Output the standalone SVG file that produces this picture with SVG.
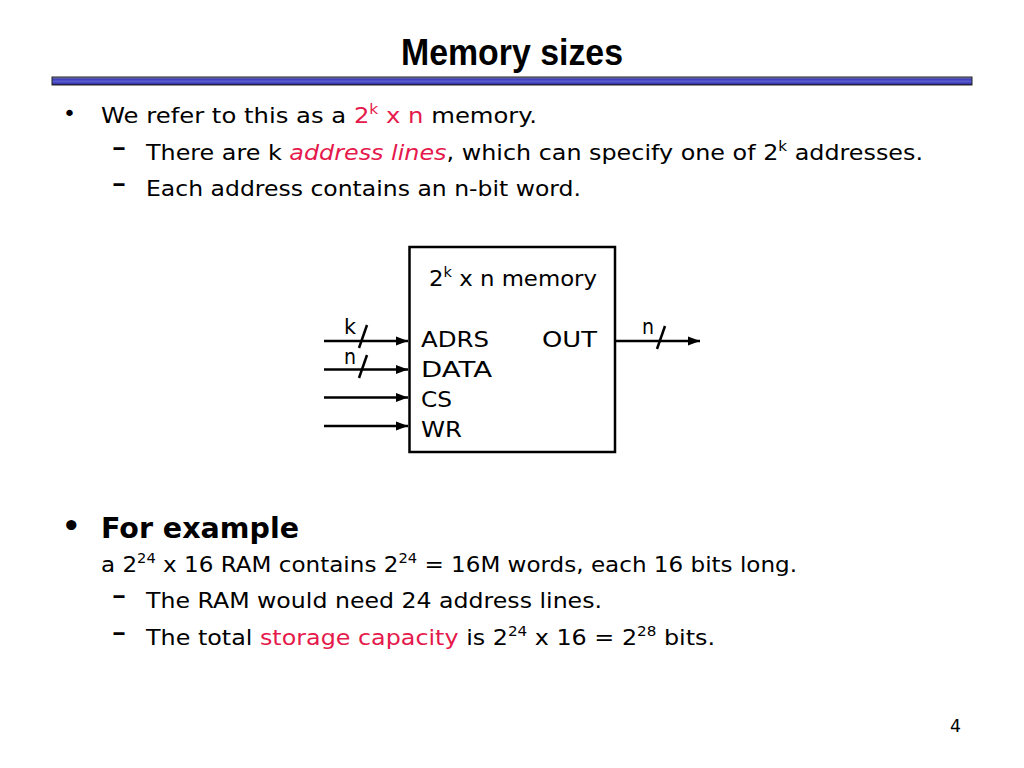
<svg xmlns="http://www.w3.org/2000/svg" width="1024" height="768" viewBox="0 0 1024 768">
<style>
.t{font-family:"DejaVu Sans","Noto Sans",sans-serif;font-size:22px;fill:#000}
.d{font-family:"DejaVu Sans","Noto Sans",sans-serif;font-size:22px;font-weight:bold;fill:#000}
.r{fill:#e5194b}
.ttl{font-family:"Liberation Sans",Arial,sans-serif;font-weight:bold;font-size:36px;fill:#000}
.b{font-family:"DejaVu Sans","Noto Sans",sans-serif;font-weight:bold;font-size:29px;fill:#000}
.w{stroke:#000;stroke-width:2.5;fill:none}
.sl{stroke:#000;stroke-width:2.5}
</style>
<defs>
<linearGradient id="bar" x1="0" y1="0" x2="0" y2="1">
<stop offset="0" stop-color="#9a9ab0"/>
<stop offset="0.25" stop-color="#3c3cb4"/>
<stop offset="0.55" stop-color="#5a5ad2"/>
<stop offset="0.8" stop-color="#3c3cb4"/>
<stop offset="1" stop-color="#1a1a50"/>
</linearGradient>
<marker id="ah" markerUnits="userSpaceOnUse" markerWidth="14" markerHeight="12" refX="12" refY="6" orient="auto">
<path d="M0,1.5 L12,6 L0,10.5 Z" fill="#000"/>
</marker>
</defs>
<rect width="1024" height="768" fill="#fff"/>
<g id="title">
<text class="ttl" x="512" y="65" text-anchor="middle" textLength="222" lengthAdjust="spacingAndGlyphs">Memory sizes</text>
<rect x="52" y="77" width="920" height="8" fill="url(#bar)" stroke="#222" stroke-width="1"/>
</g>
<g id="text-top">
<text class="t" x="63" y="121">•</text>
<text class="t" x="101" y="123" textLength="436" lengthAdjust="spacingAndGlyphs">We refer to this as a <tspan class="r">2</tspan><tspan class="r" font-size="14" dy="-9">k</tspan><tspan class="r" dy="9"> x n</tspan> memory.</text>
<text class="d" x="112" y="155" textLength="14" lengthAdjust="spacingAndGlyphs">–</text>
<text class="t" x="146" y="160" textLength="777" lengthAdjust="spacingAndGlyphs">There are k <tspan class="r" font-style="italic">address lines</tspan>, which can specify one of 2<tspan font-size="14" dy="-9">k</tspan><tspan dy="9"> addresses.</tspan></text>
<text class="d" x="112" y="191" textLength="14" lengthAdjust="spacingAndGlyphs">–</text>
<text class="t" x="146" y="196" textLength="435" lengthAdjust="spacingAndGlyphs">Each address contains an n-bit word.</text>
</g>
<g id="memory">
<rect x="409.5" y="247" width="205.5" height="205" fill="#fff" stroke="#000" stroke-width="2.5"/>
<text class="t" x="429" y="286" textLength="168" lengthAdjust="spacingAndGlyphs">2<tspan font-size="14" dy="-9">k</tspan><tspan dy="9"> x n memory</tspan></text>
<text class="t" x="421" y="347" textLength="68" lengthAdjust="spacingAndGlyphs">ADRS</text>
<text class="t" x="542" y="347" textLength="55" lengthAdjust="spacingAndGlyphs">OUT</text>
<text class="t" x="421" y="377" textLength="71" lengthAdjust="spacingAndGlyphs">DATA</text>
<text class="t" x="421" y="407" textLength="31" lengthAdjust="spacingAndGlyphs">CS</text>
<text class="t" x="421" y="437" textLength="41" lengthAdjust="spacingAndGlyphs">WR</text>
</g>
<g id="connectors">
<line class="w" x1="324" y1="341" x2="408" y2="341" marker-end="url(#ah)"/>
<line class="w" x1="324" y1="369.5" x2="408" y2="369.5" marker-end="url(#ah)"/>
<line class="w" x1="324" y1="397.5" x2="408" y2="397.5" marker-end="url(#ah)"/>
<line class="w" x1="324" y1="426" x2="408" y2="426" marker-end="url(#ah)"/>
<line class="w" x1="616" y1="341" x2="700" y2="341" marker-end="url(#ah)"/>
<line class="sl" x1="359" y1="348" x2="367" y2="325"/>
<line class="sl" x1="359" y1="378" x2="367" y2="355"/>
<line class="sl" x1="657" y1="349" x2="665" y2="326"/>
<text class="t" x="344" y="334" textLength="12" lengthAdjust="spacingAndGlyphs">k</text>
<text class="t" x="344" y="364" textLength="12" lengthAdjust="spacingAndGlyphs">n</text>
<text class="t" x="642" y="334" textLength="12" lengthAdjust="spacingAndGlyphs">n</text>
</g>
<g id="text-bottom">
<text class="b" x="62" y="536">•</text>
<text class="b" x="101" y="538" textLength="198" lengthAdjust="spacingAndGlyphs">For example</text>
<text class="t" x="101" y="572" textLength="696" lengthAdjust="spacingAndGlyphs">a 2<tspan font-size="14" dy="-9">24</tspan><tspan dy="9"> x 16 RAM contains 2</tspan><tspan font-size="14" dy="-9">24</tspan><tspan dy="9"> = 16M words, each 16 bits long.</tspan></text>
<text class="d" x="112" y="603" textLength="14" lengthAdjust="spacingAndGlyphs">–</text>
<text class="t" x="146" y="608" textLength="456" lengthAdjust="spacingAndGlyphs">The RAM would need 24 address lines.</text>
<text class="d" x="112" y="640" textLength="14" lengthAdjust="spacingAndGlyphs">–</text>
<text class="t" x="146" y="645" textLength="569" lengthAdjust="spacingAndGlyphs">The total <tspan class="r">storage capacity</tspan> is 2<tspan font-size="14" dy="-9">24</tspan><tspan dy="9"> x 16 = 2</tspan><tspan font-size="14" dy="-9">28</tspan><tspan dy="9"> bits.</tspan></text>
</g>
<text class="t" x="950" y="732" textLength="11" lengthAdjust="spacingAndGlyphs" style="font-size:18px">4</text>
</svg>
